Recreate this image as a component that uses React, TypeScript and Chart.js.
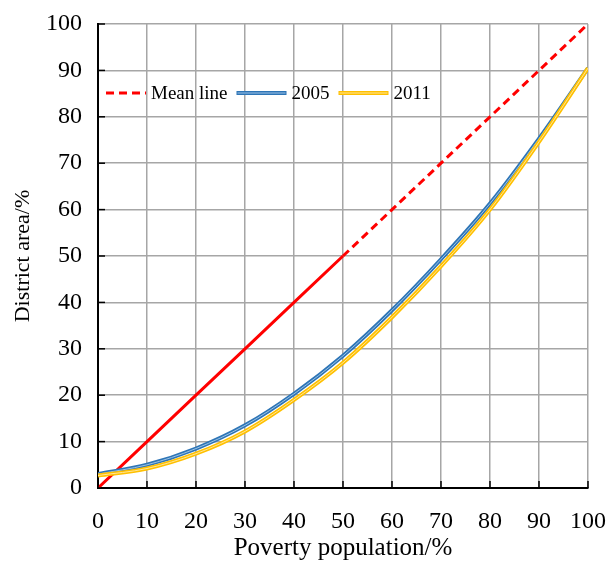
import React, { useEffect, useRef } from "react";
import { Chart, registerables } from "chart.js";

Chart.register(...registerables);

const xValues = [0, 10, 20, 30, 40, 50, 60, 70, 80, 90, 100];
const meanLine = [0, 10, 20, 30, 40, 50, 60, 70, 80, 90, 100];
const series2005 = [3, 5, 8.5, 13.5, 20.3, 28.5, 38.3, 49.3, 61.3, 75.3, 90.5];
const series2011 = [2.7, 4.2, 7.4, 12.2, 19.0, 27, 36.8, 47.8, 60, 74.6, 90.5];
const seriesLabels = ["Mean line", "2005", "2011"];
const xTitle = "Poverty population/%";
const yTitle = "District area/%";

const FONT = "'Liberation Serif', 'Times New Roman', serif";

const toPoints = (ys: number[]) => xValues.map((x, i) => ({ x, y: ys[i] }));

const innerTicks = {
  id: "innerTicks",
  afterDraw(chart: any) {
    const { ctx, chartArea } = chart;
    const xs = chart.scales.x;
    const ys = chart.scales.y;
    ctx.save();
    ctx.strokeStyle = "#000";
    ctx.lineWidth = 1.5;
    xs.ticks.forEach((t: any) => {
      const px = xs.getPixelForValue(t.value);
      ctx.beginPath();
      ctx.moveTo(px, chartArea.bottom);
      ctx.lineTo(px, chartArea.bottom - 7);
      ctx.stroke();
    });
    ys.ticks.forEach((t: any) => {
      const py = ys.getPixelForValue(t.value);
      ctx.beginPath();
      ctx.moveTo(chartArea.left, py);
      ctx.lineTo(chartArea.left + 7, py);
      ctx.stroke();
    });
    ctx.restore();
  },
};

// legend drawn inside the plot area, from the datasets' own labels/styles
const innerLegend = {
  id: "innerLegend",
  afterDraw(chart: any) {
    const { ctx, chartArea } = chart;
    const ds = chart.data.datasets;
    const sampleW = [40, 50, 50];
    let x = chartArea.left + 8;
    const y = chartArea.top + 69;
    ctx.save();
    ctx.font = `19px ${FONT}`;
    ctx.textBaseline = "middle";
    ctx.textAlign = "left";
    for (let i = 0; i < 3; i++) {
      const d = ds[i];
      ctx.strokeStyle = d.borderColor;
      ctx.lineWidth = d.borderWidth;
      ctx.setLineDash(d.borderDash || []);
      ctx.beginPath();
      ctx.moveTo(x, y);
      ctx.lineTo(x + sampleW[i], y);
      ctx.stroke();
      const inner = ds[i + 2];
      if (i > 0 && inner) {
        ctx.setLineDash([]);
        ctx.strokeStyle = inner.borderColor;
        ctx.lineWidth = inner.borderWidth;
        ctx.beginPath();
        ctx.moveTo(x + 1, y);
        ctx.lineTo(x + sampleW[i] - 1, y);
        ctx.stroke();
      }
      x += sampleW[i] + 5;
      ctx.fillStyle = "#000";
      ctx.fillText(d.label, x, y + 1);
      x += ctx.measureText(d.label).width + 9;
    }
    ctx.restore();
  },
};

export default function App() {
  const ref = useRef<HTMLCanvasElement>(null);
  useEffect(() => {
    if (!ref.current) return;
    const curve = { pointRadius: 0, cubicInterpolationMode: "monotone" };
    const chart = new Chart(ref.current, {
      type: "line",
      data: {
        datasets: [
          {
            label: seriesLabels[0],
            data: toPoints(meanLine),
            borderColor: "#ff0000",
            backgroundColor: "#ff0000",
            borderWidth: 3,
            borderDash: [8, 5],
            pointRadius: 0,
            order: 4,
            segment: {
              borderDash: (c: any) => (c.p0.parsed.x < 50 ? [] : undefined),
            },
          },
          {
            label: seriesLabels[1],
            data: toPoints(series2005),
            borderColor: "#2e75b6",
            backgroundColor: "#2e75b6",
            borderWidth: 4,
            order: 3,
            ...curve,
          },
          {
            label: seriesLabels[2],
            data: toPoints(series2011),
            borderColor: "#ffc000",
            backgroundColor: "#ffc000",
            borderWidth: 4,
            order: 1,
            ...curve,
          },
          {
            label: "2005 inner",
            data: toPoints(series2005),
            borderColor: "#9dc3e6",
            borderWidth: 1,
            order: 2,
            ...curve,
          },
          {
            label: "2011 inner",
            data: toPoints(series2011),
            borderColor: "#ffe699",
            borderWidth: 1,
            order: 0,
            ...curve,
          },
        ],
      } as any,
      options: {
        animation: false,
        responsive: true,
        maintainAspectRatio: false,
        layout: { padding: { left: 0, top: 24, right: 21, bottom: 0 } },
        plugins: {
          tooltip: { enabled: false },
          legend: { display: false },
        },
        scales: {
          x: {
            type: "linear",
            min: 0,
            max: 100,
            afterFit: (s: any) => {
              s.height = 75;
              s.paddingLeft = 0;
              s.paddingRight = 0;
            },
            ticks: {
              stepSize: 10,
              color: "#000",
              padding: 19,
              maxRotation: 0,
              font: { family: FONT, size: 24 },
            },
            grid: { color: "#a6a6a6", lineWidth: 1.5, drawTicks: false },
            border: { color: "#000", width: 2 },
            title: {
              display: true,
              text: xTitle,
              color: "#000",
              padding: { top: 0, bottom: 0 },
              font: { family: FONT, size: 25 },
            },
          },
          y: {
            type: "linear",
            min: 0,
            max: 100,
            afterFit: (s: any) => {
              s.width = 98;
              s.paddingTop = 0;
              s.paddingBottom = 0;
            },
            ticks: {
              stepSize: 10,
              color: "#000",
              padding: 16,
              font: { family: FONT, size: 24 },
            },
            grid: { color: "#a6a6a6", lineWidth: 1.5, drawTicks: false },
            border: { color: "#000", width: 2 },
            title: {
              display: true,
              text: yTitle,
              color: "#000",
              padding: { top: 10, bottom: 0 },
              font: { family: FONT, size: 22 },
            },
          },
        },
      },
      plugins: [innerTicks, innerLegend],
    });
    return () => chart.destroy();
  }, []);
  return (
    <div style={{ position: "fixed", left: 0, top: 0, width: 609, height: 563, background: "#fff" }}>
      <canvas ref={ref} />
    </div>
  );
}
